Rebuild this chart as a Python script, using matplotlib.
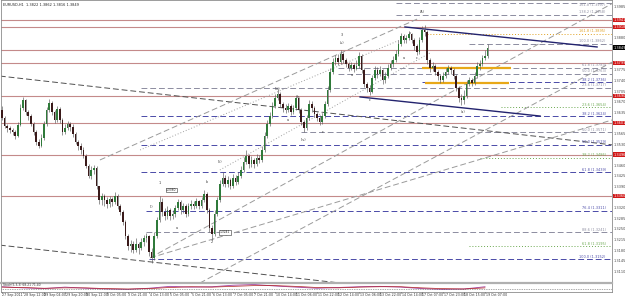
import matplotlib.pyplot as plt
import numpy as np

symbol = 'EURUSD,H1'
first_open = 1.3644

closes = [1.3618, 1.3591, 1.3585, 1.3578, 1.3571, 1.3558, 1.3595, 1.3651, 1.3677, 1.3637,
          1.3624, 1.3598, 1.3571, 1.3538, 1.3525, 1.3552, 1.3598, 1.3644, 1.3667, 1.3637,
          1.3611, 1.3647, 1.3611, 1.3571, 1.3585, 1.3598, 1.3588, 1.3565, 1.3538, 1.3525,
          1.3512, 1.3492, 1.3459, 1.3426, 1.3446, 1.3453, 1.3393, 1.3347, 1.3360, 1.3347,
          1.3334, 1.3350, 1.3340, 1.3360, 1.3327, 1.3307, 1.3274, 1.3228, 1.3195, 1.3202,
          1.3182, 1.3202, 1.3189, 1.3208, 1.3222, 1.3228, 1.3175, 1.3156, 1.3228, 1.3281,
          1.3340, 1.3307, 1.3294, 1.3314, 1.3294, 1.3301, 1.3321, 1.3340, 1.3314, 1.3327,
          1.3301, 1.3327, 1.3334, 1.3327, 1.3344, 1.3327, 1.3347, 1.3367, 1.3314, 1.3255,
          1.3235, 1.3301, 1.3347, 1.3400, 1.3420, 1.3400, 1.3413, 1.3393, 1.3420, 1.3406,
          1.3426, 1.3446, 1.3472, 1.3492, 1.3466, 1.3479, 1.3466, 1.3486, 1.3479, 1.3512,
          1.3558, 1.3598, 1.3624, 1.3657, 1.3684, 1.3697, 1.3664, 1.3651, 1.3644, 1.3657,
          1.3637, 1.3651, 1.3684, 1.3644, 1.3604, 1.3585, 1.3618, 1.3664, 1.3651, 1.3631,
          1.3618, 1.3604, 1.3624, 1.3664, 1.3710, 1.3769, 1.3802, 1.3816, 1.3802, 1.3829,
          1.3809, 1.3796, 1.3783, 1.3793, 1.3779, 1.3789, 1.3822, 1.3776, 1.3730, 1.3717,
          1.3703, 1.3750, 1.3776, 1.3763, 1.3776, 1.3743, 1.3756, 1.3783, 1.3796, 1.3809,
          1.3829, 1.3862, 1.3888, 1.3875, 1.3882, 1.3895, 1.3875, 1.3855, 1.3835, 1.3875,
          1.3908, 1.3901, 1.3809, 1.3783, 1.3789, 1.3769, 1.3756, 1.3743, 1.3756, 1.3769,
          1.3783, 1.3776, 1.3756, 1.3717, 1.3684, 1.3677, 1.3690, 1.3730, 1.3743, 1.3733,
          1.3756, 1.3789, 1.3796, 1.3816, 1.3822, 1.3849]

highs = [1.3657, 1.3624, 1.3598, 1.3591, 1.3585, 1.3578, 1.3604, 1.3664, 1.3687, 1.3680,
         1.3644, 1.3631, 1.3604, 1.3578, 1.3548, 1.3565, 1.3608, 1.3654, 1.3680, 1.3674,
         1.3644, 1.3657, 1.3654, 1.3618, 1.3598, 1.3608, 1.3604, 1.3598, 1.3571, 1.3545,
         1.3535, 1.3522, 1.3499, 1.3466, 1.3459, 1.3463, 1.3459, 1.3393, 1.3370, 1.3367,
         1.3357, 1.3360, 1.3357, 1.3373, 1.3367, 1.3334, 1.3314, 1.3281, 1.3235, 1.3215,
         1.3212, 1.3222, 1.3208, 1.3222, 1.3232, 1.3238, 1.3232, 1.3189, 1.3241, 1.3291,
         1.3360, 1.3354, 1.3321, 1.3327, 1.3321, 1.3314, 1.3331, 1.3350, 1.3347, 1.3337,
         1.3334, 1.3337, 1.3347, 1.3344, 1.3354, 1.3347, 1.3357, 1.3380, 1.3373, 1.3321,
         1.3265, 1.3314, 1.3357, 1.3413, 1.3439, 1.3430, 1.3426, 1.3420, 1.3433, 1.3430,
         1.3439, 1.3459, 1.3489, 1.3512, 1.3499, 1.3492, 1.3486, 1.3499, 1.3496, 1.3525,
         1.3571, 1.3611, 1.3637, 1.3670, 1.3697, 1.3713, 1.3703, 1.3670, 1.3664, 1.3667,
         1.3664, 1.3661, 1.3694, 1.3687, 1.3651, 1.3611, 1.3628, 1.3677, 1.3674, 1.3657,
         1.3637, 1.3628, 1.3634, 1.3674, 1.3723, 1.3783, 1.3816, 1.3826, 1.3829, 1.3842,
         1.3835, 1.3816, 1.3802, 1.3802, 1.3799, 1.3809, 1.3835, 1.3829, 1.3783, 1.3736,
         1.3727, 1.3760, 1.3789, 1.3786, 1.3789, 1.3779, 1.3769, 1.3796, 1.3809, 1.3822,
         1.3842, 1.3875, 1.3898, 1.3895, 1.3892, 1.3901, 1.3898, 1.3882, 1.3862, 1.3885,
         1.3921, 1.3925, 1.3908, 1.3816, 1.3802, 1.3796, 1.3776, 1.3763, 1.3769, 1.3783,
         1.3793, 1.3789, 1.3783, 1.3763, 1.3723, 1.3697, 1.3710, 1.3743, 1.3753, 1.3750,
         1.3769, 1.3802, 1.3809, 1.3826, 1.3842, 1.3862]

lows = [1.3611, 1.3585, 1.3571, 1.3568, 1.3562, 1.3548, 1.3555, 1.3591, 1.3644, 1.3628,
        1.3611, 1.3591, 1.3562, 1.3529, 1.3519, 1.3522, 1.3545, 1.3591, 1.3637, 1.3628,
        1.3601, 1.3604, 1.3601, 1.3562, 1.3565, 1.3578, 1.3575, 1.3555, 1.3532, 1.3512,
        1.3499, 1.3486, 1.3453, 1.3420, 1.3416, 1.3433, 1.3383, 1.3334, 1.3331, 1.3327,
        1.3321, 1.3324, 1.3327, 1.3334, 1.3317, 1.3298, 1.3265, 1.3218, 1.3182, 1.3175,
        1.3172, 1.3175, 1.3169, 1.3182, 1.3195, 1.3208, 1.3162, 1.3139, 1.3149, 1.3222,
        1.3274, 1.3294, 1.3281, 1.3284, 1.3281, 1.3284, 1.3291, 1.3314, 1.3301, 1.3304,
        1.3291, 1.3294, 1.3317, 1.3317, 1.3321, 1.3317, 1.3321, 1.3340, 1.3304, 1.3241,
        1.3215, 1.3228, 1.3294, 1.3340, 1.3393, 1.3390, 1.3390, 1.3383, 1.3387, 1.3397,
        1.3400, 1.3420, 1.3439, 1.3466, 1.3453, 1.3456, 1.3453, 1.3459, 1.3469, 1.3472,
        1.3505, 1.3552, 1.3591, 1.3618, 1.3651, 1.3677, 1.3654, 1.3637, 1.3634, 1.3637,
        1.3628, 1.3631, 1.3644, 1.3634, 1.3595, 1.3571, 1.3578, 1.3611, 1.3637, 1.3621,
        1.3608, 1.3595, 1.3598, 1.3618, 1.3657, 1.3703, 1.3763, 1.3793, 1.3793, 1.3796,
        1.3799, 1.3786, 1.3773, 1.3776, 1.3769, 1.3776, 1.3783, 1.3766, 1.3720, 1.3703,
        1.3694, 1.3700, 1.3743, 1.3750, 1.3756, 1.3730, 1.3733, 1.3750, 1.3776, 1.3786,
        1.3802, 1.3822, 1.3855, 1.3865, 1.3865, 1.3875, 1.3865, 1.3842, 1.3826, 1.3829,
        1.3868, 1.3888, 1.3796, 1.3769, 1.3773, 1.3760, 1.3743, 1.3733, 1.3736, 1.3750,
        1.3763, 1.3763, 1.3746, 1.3707, 1.3670, 1.3661, 1.3664, 1.3684, 1.3723, 1.3723,
        1.3727, 1.3750, 1.3776, 1.3789, 1.3809, 1.3816]

date_labels = ['27 Sep 2011', '28 Sep 12:00', '29 Sep 04:00', '29 Sep 20:00', '30 Sep 12:00',
               '3 Oct 05:00', '3 Oct 21:00', '4 Oct 13:00', '5 Oct 05:00', '5 Oct 21:00',
               '6 Oct 13:00', '7 Oct 05:00', '7 Oct 21:00', '10 Oct 14:00', '11 Oct 06:00',
               '11 Oct 22:00', '12 Oct 14:00', '13 Oct 06:00', '13 Oct 22:00', '14 Oct 14:00',
               '17 Oct 07:00', '17 Oct 23:00', '18 Oct 15:00', '19 Oct 07:00']

price_ticks = [1.3985, 1.3950, 1.3915, 1.3880, 1.3845, 1.3810, 1.3775, 1.3740, 1.3705,
               1.3670, 1.3635, 1.3600, 1.3565, 1.3530, 1.3495, 1.3460, 1.3425, 1.3390,
               1.3355, 1.3320, 1.3285, 1.3250, 1.3215, 1.3180, 1.3145, 1.3110]

# solid pivot lines with red price tags
pivot_levels = [1.3941, 1.3918, 1.3842, 1.3799, 1.3690, 1.3601, 1.3496, 1.3360]

# fibonacci levels: price, first bar, label, colour kind
fib_levels = [1.3997, 1.3958, 1.3895, 1.3862, 1.3783, 1.3763, 1.3736, 1.3717, 1.3654,
              1.3624, 1.3571, 1.3529, 1.3486, 1.3439, 1.3311, 1.3241, 1.3195, 1.3152]
fib_start = [150, 150, 162, 178, 128, 128, 160, 53, 190, 53, 114, 53, 182, 53, 55, 55, 178, 56]
fib_text = ['161.8 (1.3997)', '138.2 (1.3958)', '161.8 (1.3895)', '100.0 (1.3862)',
            '61.8 (1.3783)', '50.0 (1.3763)', '38.2 (1.3736)', '23.6 (1.3717)',
            '23.6 (1.3654)', '38.2 (1.3624)', '50.0 (1.3571)', '50.0 (1.3529)',
            '38.2 (1.3486)', '61.8 (1.3439)', '76.4 (1.3311)', '88.6 (1.3241)',
            '61.8 (1.3195)', '100.0 (1.3152)']
fib_kind = ['gray', 'gray', 'orange', 'gray', 'gray', 'gray', 'blue', 'gray', 'green',
            'blue', 'gray', 'blue', 'green', 'blue', 'blue', 'gray', 'green', 'blue']

# orange support / resistance zone
zone_levels = [1.3783, 1.3733]
zone_start = [160, 161]
zone_end = [194, 193]

# navy channel lines (bar, price) -> (bar, price)
channel_a = [(153.5, 1.3918), (136.4, 1.3687)]
channel_b = [(226.7, 1.3852), (205.0, 1.3624)]

# gray trend lines: bar0, price0, bar1, price1, style
trend_lines = [(-0.8, 1.3756, 232.4, 1.3529, 'dark'),
               (-0.8, 1.3198, 128.8, 1.3073, 'dark'),
               (56.4, 1.3156, 232.8, 1.3997, 'gray'),
               (56.4, 1.3156, 232.4, 1.3611, 'gray'),
               (75.4, 1.3073, 232.4, 1.3802, 'gray'),
               (37.3, 1.3479, 159.2, 1.3948, 'gray'),
               (52.6, 1.3512, 151.6, 1.3875, 'dot'),
               (83.0, 1.3446, 163.0, 1.3832, 'dot')]

wave_text = ['(A)', '3', '(v)', 'b', 'a', 'c', '(iii)', 'b', 'a', 'c', '(iv)', 'a', 'c',
             '1', 'b', '(ii)', 'a', '2', '(a)', '(i)']
wave_bar = [160, 129.5, 129.5, 155.4, 153, 158, 105, 112.8, 109, 122, 114.7, 133.3, 140,
            60.2, 78, 83, 66.7, 80, 175.6, 57]
wave_price = [1.3967, 1.3892, 1.3865, 1.3898, 1.3816, 1.3816, 1.3713, 1.3687, 1.3611, 1.3571,
              1.3545, 1.3760, 1.3677, 1.3403, 1.3406, 1.3472, 1.3255, 1.3208, 1.3637, 1.3324]

tag_bar = [62.5, 83.0]
tag_price = [1.3380, 1.3241]

ind_main = [0.2, -0.1, -0.3, 0.1, -0.2, -0.4, -0.5, -0.2, 0.3, 0.1, 0.2, 0.6,
            0.8, 0.4, 0.1, -0.2, 0.0, 0.2, 0.3, 0.1, -0.3, -0.5, -0.4, 0.2]
ind_signal = [0.1, 0.0, -0.2, -0.1, -0.1, -0.3, -0.4, -0.3, 0.0, 0.2, 0.1, 0.3,
              0.5, 0.5, 0.3, 0.0, -0.1, 0.1, 0.2, 0.2, -0.1, -0.3, -0.4, -0.1]

fib_colors = {'gray': '#8c8ca0', 'blue': '#4a4aa8', 'green': '#6aa84f', 'orange': '#e0a020'}
fib_styles = {'gray': (0, (6, 3)), 'blue': (0, (6, 3)), 'green': (0, (1, 2)), 'orange': (0, (1, 2))}
trend_styles = {'dark': ('#505050', (0, (6, 3))), 'gray': ('#9a9a9a', (0, (6, 3))),
                'dot': ('#a0a0a0', (0, (1, 2)))}

fs = 2.5
fig = plt.figure(figsize=(6.25, 2.98), dpi=100)
ax = fig.add_axes([1 / 625, 15 / 298, 611 / 625, 283 / 298])
ax.set_xlim(-0.381, 232.38)
ax.set_ylim(1.3073, 1.4007)
ax.set_xticks([])
ax.set_yticks([])
for s in ax.spines.values():
    s.set_color('#8c8c8c')
    s.set_linewidth(0.6)

# pivots
for p in pivot_levels:
    ax.axhline(p, color='#c48a8a', lw=0.8, zorder=1)

# fibonacci
for p, st, t, k in zip(fib_levels, fib_start, fib_text, fib_kind):
    ax.hlines(p, st, 232.4, color=fib_colors[k], lw=0.7, linestyles=fib_styles[k], zorder=1)
    above = p < 1.399
    ax.text(230, p + (0.00015 if above else -0.00015), t, color=fib_colors[k], fontsize=fs,
            ha='right', va='bottom' if above else 'top')

for p, a, b in zip(zone_levels, zone_start, zone_end):
    ax.hlines(p, a, b, color='#e8a818', lw=1.6, zorder=2)

for x0, y0, x1, y1, st in trend_lines:
    c, ls = trend_styles[st]
    ax.plot([x0, x1], [y0, y1], color=c, lw=0.7, ls=ls, zorder=1)

for a, b in zip(channel_a, channel_b):
    ax.plot([a[0], b[0]], [a[1], b[1]], color='#23236e', lw=1.0, zorder=3)

# candles
opens = np.array([first_open] + closes[:-1])
c = np.array(closes)
idx = np.arange(len(c))
up = c >= opens
ax.vlines(idx, lows, highs, color='#5a5a5a', lw=0.45, zorder=4)
body_low = np.minimum(opens, c)
body_h = np.maximum(np.abs(c - opens), 0.0001)
ax.bar(idx[up], body_h[up], bottom=body_low[up], width=0.62, color='#2f7a3a', lw=0, zorder=5)
ax.bar(idx[~up], body_h[~up], bottom=body_low[~up], width=0.62, color='#3a1a1a', lw=0, zorder=5)

for t, b, p in zip(wave_text, wave_bar, wave_price):
    ax.text(b, p, t, fontsize=2.4, ha='center', va='center', color='#333333', zorder=6)

for b, p in zip(tag_bar, tag_price):
    ax.text(b, p, f'{p:.4f}', fontsize=2.2, ha='left', va='center', color='#222222', zorder=6,
            bbox=dict(boxstyle='square,pad=0.15', fc='white', ec='#333333', lw=0.4))

# right price scale
ytr = ax.get_yaxis_transform()
last = closes[-1]
tagged = pivot_levels + [last]
for p in price_ticks:
    if min(abs(p - q) for q in tagged) < 0.0014:
        continue
    ax.text(1.002, p, f'{p:.4f}', transform=ytr, fontsize=fs,
            color='#444444', va='center', ha='left', clip_on=False)
for p in pivot_levels:
    if abs(p - last) < 0.0016:
        continue  # hidden under the bid tag
    ax.text(1.002, p, f'{p:.4f}', transform=ytr, fontsize=fs,
            color='white', va='center', ha='left', clip_on=False,
            bbox=dict(boxstyle='square,pad=0.12', fc='#d01818', ec='none'))
ax.text(1.002, last, f'{last:.4f}', transform=ytr, fontsize=fs,
        color='white', va='center', ha='left', clip_on=False,
        bbox=dict(boxstyle='square,pad=0.12', fc='black', ec='none'))

ax.text(0.004, 0.99, f'{symbol}  {opens[-1]:.4f} {highs[-1]:.4f} {lows[-1]:.4f} {closes[-1]:.4f}',
        transform=ax.transAxes, fontsize=fs, va='top', ha='left', color='#222222')

# indicator panel
ix = fig.add_axes([1 / 625, 6 / 298, 611 / 625, 9 / 298])
ix.set_xlim(-0.381, 232.38)
ix.set_ylim(-1.2, 1.2)
ix.set_xticks([])
ix.set_yticks([])
for s in ix.spines.values():
    s.set_color('#8c8c8c')
    s.set_linewidth(0.6)
ix.spines['top'].set_linewidth(1.6)
ix.spines['top'].set_color('#b0b0b0')
ind_x = np.arange(len(ind_main)) * 8
ix.plot(ind_x, ind_main, color='#a040a0', lw=0.6)
ix.plot(ind_x, ind_signal, color='#b02020', lw=0.5)
ix.axhline(-0.4, color='#555555', lw=0.5, ls=(0, (1, 1.5)))
ix.text(0.003, 0.95, 'Stoch(5,3,3) 68.21 71.40', transform=ix.transAxes, fontsize=2.2,
        va='top', ha='left', color='#333333')

for k, lab in enumerate(date_labels):
    x = 2 + 21 * k
    fig.text((x + 0.5) / 625, 2.8 / 298, lab, fontsize=2.3, ha='left', va='center', color='#333333')
    fig.add_artist(plt.Line2D([x / 625, x / 625], [5 / 298, 6 / 298], color='#666666', lw=0.4))

fig.savefig('out.png', dpi=100, facecolor='white')
